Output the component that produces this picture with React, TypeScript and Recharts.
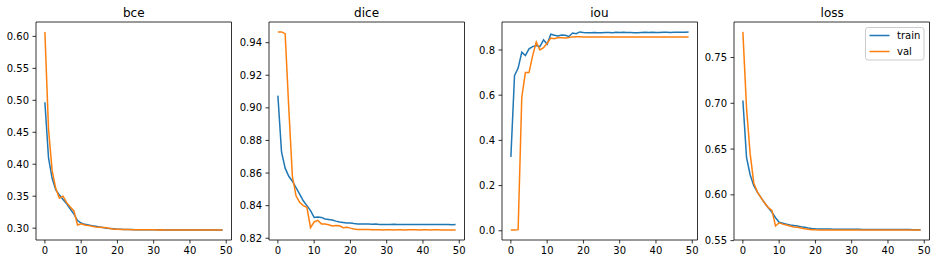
import React from 'react';
import { LineChart, Line, XAxis, YAxis, ReferenceArea, Legend } from 'recharts';

const FONT = '"DejaVu Sans", sans-serif';
const TRAIN_COLOR = '#1f77b4';
const VAL_COLOR = '#ff7f0e';

const bceTrain = [0.497, 0.41, 0.378, 0.36, 0.352, 0.345, 0.338, 0.33, 0.322, 0.312, 0.308, 0.306, 0.305, 0.304, 0.303, 0.302, 0.301, 0.3, 0.2995, 0.299, 0.2985, 0.2983, 0.298, 0.298, 0.2978, 0.2977, 0.2976, 0.2975, 0.2975, 0.2974, 0.2974, 0.2974, 0.2973, 0.2973, 0.2973, 0.2973, 0.2972, 0.2972, 0.2973, 0.2972, 0.2972, 0.2971, 0.2972, 0.2971, 0.2971, 0.2971, 0.2971, 0.297, 0.297, 0.297];
const bceVal = [0.607, 0.455, 0.39, 0.362, 0.347, 0.35, 0.34, 0.333, 0.327, 0.305, 0.307, 0.305, 0.304, 0.303, 0.302, 0.3015, 0.301, 0.3005, 0.2995, 0.2985, 0.2985, 0.298, 0.298, 0.2978, 0.2977, 0.2977, 0.2976, 0.2975, 0.2974, 0.2975, 0.2974, 0.2973, 0.2974, 0.2973, 0.2973, 0.2972, 0.2973, 0.2972, 0.2972, 0.2973, 0.2972, 0.2971, 0.2972, 0.2971, 0.2971, 0.2972, 0.2971, 0.2971, 0.297, 0.2971];

const diceTrain = [0.9075, 0.873, 0.863, 0.858, 0.855, 0.851, 0.847, 0.843, 0.84, 0.837, 0.8328, 0.833, 0.8328, 0.8318, 0.8315, 0.8312, 0.8305, 0.83, 0.8297, 0.8294, 0.8293, 0.829, 0.8288, 0.8288, 0.8287, 0.8287, 0.8286, 0.8287, 0.8285, 0.8284, 0.8284, 0.8285, 0.8286, 0.8285, 0.8285, 0.8284, 0.8285, 0.8284, 0.8285, 0.8285, 0.8284, 0.8284, 0.8285, 0.8285, 0.8284, 0.8284, 0.8285, 0.8284, 0.8283, 0.8284];
const diceVal = [0.9465, 0.9466, 0.9455, 0.9, 0.858, 0.846, 0.842, 0.84, 0.839, 0.8265, 0.83, 0.831, 0.8288, 0.8288, 0.8283, 0.8275, 0.8278, 0.8276, 0.8265, 0.8268, 0.8262, 0.8257, 0.8254, 0.8254, 0.8253, 0.8253, 0.8252, 0.8252, 0.8252, 0.8251, 0.8252, 0.8252, 0.8251, 0.8252, 0.8252, 0.8251, 0.8252, 0.8252, 0.8252, 0.8251, 0.8252, 0.8252, 0.8251, 0.8252, 0.8252, 0.8251, 0.8251, 0.825, 0.825, 0.8251];

const iouTrain = [0.327, 0.686, 0.72, 0.79, 0.775, 0.805, 0.815, 0.82, 0.815, 0.845, 0.825, 0.87, 0.865, 0.862, 0.866, 0.865, 0.86, 0.875, 0.872, 0.88, 0.877, 0.876, 0.876, 0.877, 0.876, 0.876, 0.877, 0.877, 0.876, 0.878, 0.877, 0.879, 0.877, 0.877, 0.876, 0.876, 0.877, 0.878, 0.877, 0.878, 0.877, 0.877, 0.878, 0.878, 0.877, 0.878, 0.878, 0.878, 0.879, 0.88];
const iouVal = [0.003, 0.003, 0.005, 0.59, 0.7, 0.7, 0.775, 0.835, 0.8, 0.81, 0.83, 0.853, 0.85, 0.855, 0.854, 0.853, 0.855, 0.858, 0.859, 0.859, 0.858, 0.858, 0.857, 0.8572, 0.857, 0.8571, 0.857, 0.8572, 0.857, 0.8571, 0.857, 0.8572, 0.8571, 0.857, 0.8571, 0.857, 0.8572, 0.857, 0.8571, 0.857, 0.8571, 0.8572, 0.857, 0.8571, 0.857, 0.8571, 0.8572, 0.857, 0.8571, 0.8572];

const lossTrain = [0.703, 0.641, 0.622, 0.61, 0.603, 0.597, 0.591, 0.586, 0.581, 0.575, 0.57, 0.569, 0.568, 0.567, 0.5665, 0.566, 0.5652, 0.5645, 0.5638, 0.5633, 0.563, 0.5628, 0.5627, 0.5626, 0.5626, 0.5625, 0.5625, 0.5624, 0.5624, 0.5623, 0.5623, 0.5623, 0.5623, 0.5622, 0.5622, 0.5622, 0.5622, 0.5622, 0.5622, 0.5621, 0.5622, 0.5621, 0.5621, 0.5621, 0.5621, 0.5621, 0.5621, 0.562, 0.562, 0.562];
const lossVal = [0.778, 0.695, 0.645, 0.613, 0.603, 0.597, 0.591, 0.586, 0.583, 0.566, 0.5695, 0.568, 0.567, 0.566, 0.565, 0.5645, 0.5638, 0.563, 0.5623, 0.562, 0.5618, 0.5617, 0.5617, 0.5617, 0.5616, 0.5616, 0.5616, 0.5616, 0.5616, 0.5616, 0.5616, 0.5616, 0.5615, 0.5616, 0.5616, 0.5615, 0.5616, 0.5616, 0.5615, 0.5615, 0.5616, 0.5615, 0.5615, 0.5615, 0.5615, 0.5615, 0.5615, 0.5615, 0.5615, 0.5615];

const xTicks = [0, 10, 20, 30, 40, 50];
const bceTicks = [0.3, 0.35, 0.4, 0.45, 0.5, 0.55, 0.6];
const diceTicks = [0.82, 0.84, 0.86, 0.88, 0.9, 0.92, 0.94];
const iouTicks = [0, 0.2, 0.4, 0.6, 0.8];
const lossTicks = [0.55, 0.6, 0.65, 0.7, 0.75];

const seriesNames = ['train', 'val'];

const Y_AXIS_W = 36;
const PLOT_W = 195.5;
const CHART_W = Y_AXIS_W + PLOT_W + 4;

function LegendBox(props: any) {
  const payload = props.payload || [];
  return (
    <svg width={60} height={34} style={{ display: 'block' }}>
      <rect x={0.5} y={0.5} width={58.5} height={32.5} rx={2.5} fill="#fff" fillOpacity={0.8} stroke="#cccccc" strokeWidth={1} />
      {payload.map((p: any, i: number) => (
        <g key={i}>
          <line x1={4.5} x2={24.5} y1={8.5 + i * 16} y2={8.5 + i * 16} stroke={p.color} strokeWidth={1.5} />
          <text x={32} y={12 + i * 16} fontSize={10} fontFamily={FONT} fill="#000">{p.value}</text>
        </g>
      ))}
    </svg>
  );
}

function Panel(props: { title: string; train: number[]; val: number[]; ticks: number[]; decimals: number; left: number; legend?: boolean }) {
  const { title, train, val, ticks, decimals, left, legend } = props;
  const data = train.map((t, i) => ({ epoch: i, train: t, val: val[i] }));
  const all = [...train, ...val];
  const lo = Math.min(...all);
  const hi = Math.max(...all);
  const pad = (hi - lo) * 0.05;
  const yDomain: [number, number] = [lo - pad, hi + pad];
  const n = train.length - 1;
  const xDomain: [number, number] = [-0.05 * n, n * 1.05];
  const tickStyle = { fill: '#000', fontSize: 10, fontFamily: FONT };
  return (
    <div style={{ position: 'absolute', left, top: 0, width: CHART_W, height: 264 }}>
      <div style={{ position: 'absolute', left: Y_AXIS_W, top: 5.6, width: PLOT_W, textAlign: 'center', fontSize: 12, lineHeight: '14px', fontFamily: FONT, color: '#000' }}>{title}</div>
      <LineChart width={CHART_W} height={264} data={data} margin={{ top: 22, right: 4, bottom: 0, left: 0 }}>
        <XAxis dataKey="epoch" type="number" domain={xDomain} ticks={xTicks} interval={0} allowDataOverflow height={24} tickSize={3.5} tickMargin={3.5} axisLine={false} tickLine={{ stroke: '#000', strokeWidth: 0.8 }} tick={tickStyle} />
        <YAxis type="number" domain={yDomain} ticks={ticks} interval={0} allowDataOverflow width={Y_AXIS_W} tickSize={3.5} tickMargin={3.5} axisLine={false} tickLine={{ stroke: '#000', strokeWidth: 0.8 }} tick={tickStyle} tickFormatter={(v: number) => v.toFixed(decimals)} />
        <ReferenceArea x1={xDomain[0]} x2={xDomain[1]} y1={yDomain[0]} y2={yDomain[1]} fill="none" stroke="#000" strokeWidth={0.8} ifOverflow="visible" />
        <Line type="linear" dataKey="train" name={seriesNames[0]} stroke={TRAIN_COLOR} strokeWidth={1.5} dot={false} activeDot={false} isAnimationActive={false} />
        <Line type="linear" dataKey="val" name={seriesNames[1]} stroke={VAL_COLOR} strokeWidth={1.5} dot={false} activeDot={false} isAnimationActive={false} />
        {legend ? (
          <Legend layout="horizontal" verticalAlign="middle" align="center" content={<LegendBox />} wrapperStyle={{ position: 'absolute', left: 166.9, top: 27.3, width: 60, height: 34 }} />
        ) : null}
      </LineChart>
    </div>
  );
}

export default function App() {
  return (
    <div style={{ position: 'absolute', left: 0, top: 0, width: 937, height: 264, background: '#fff', overflow: 'hidden' }}>
      <Panel title="bce" train={bceTrain} val={bceVal} ticks={bceTicks} decimals={2} left={0} />
      <Panel title="dice" train={diceTrain} val={diceVal} ticks={diceTicks} decimals={2} left={232.8} />
      <Panel title="iou" train={iouTrain} val={iouVal} ticks={iouTicks} decimals={1} left={465.6} />
      <Panel title="loss" train={lossTrain} val={lossVal} ticks={lossTicks} decimals={2} left={698.4} legend />
    </div>
  );
}
